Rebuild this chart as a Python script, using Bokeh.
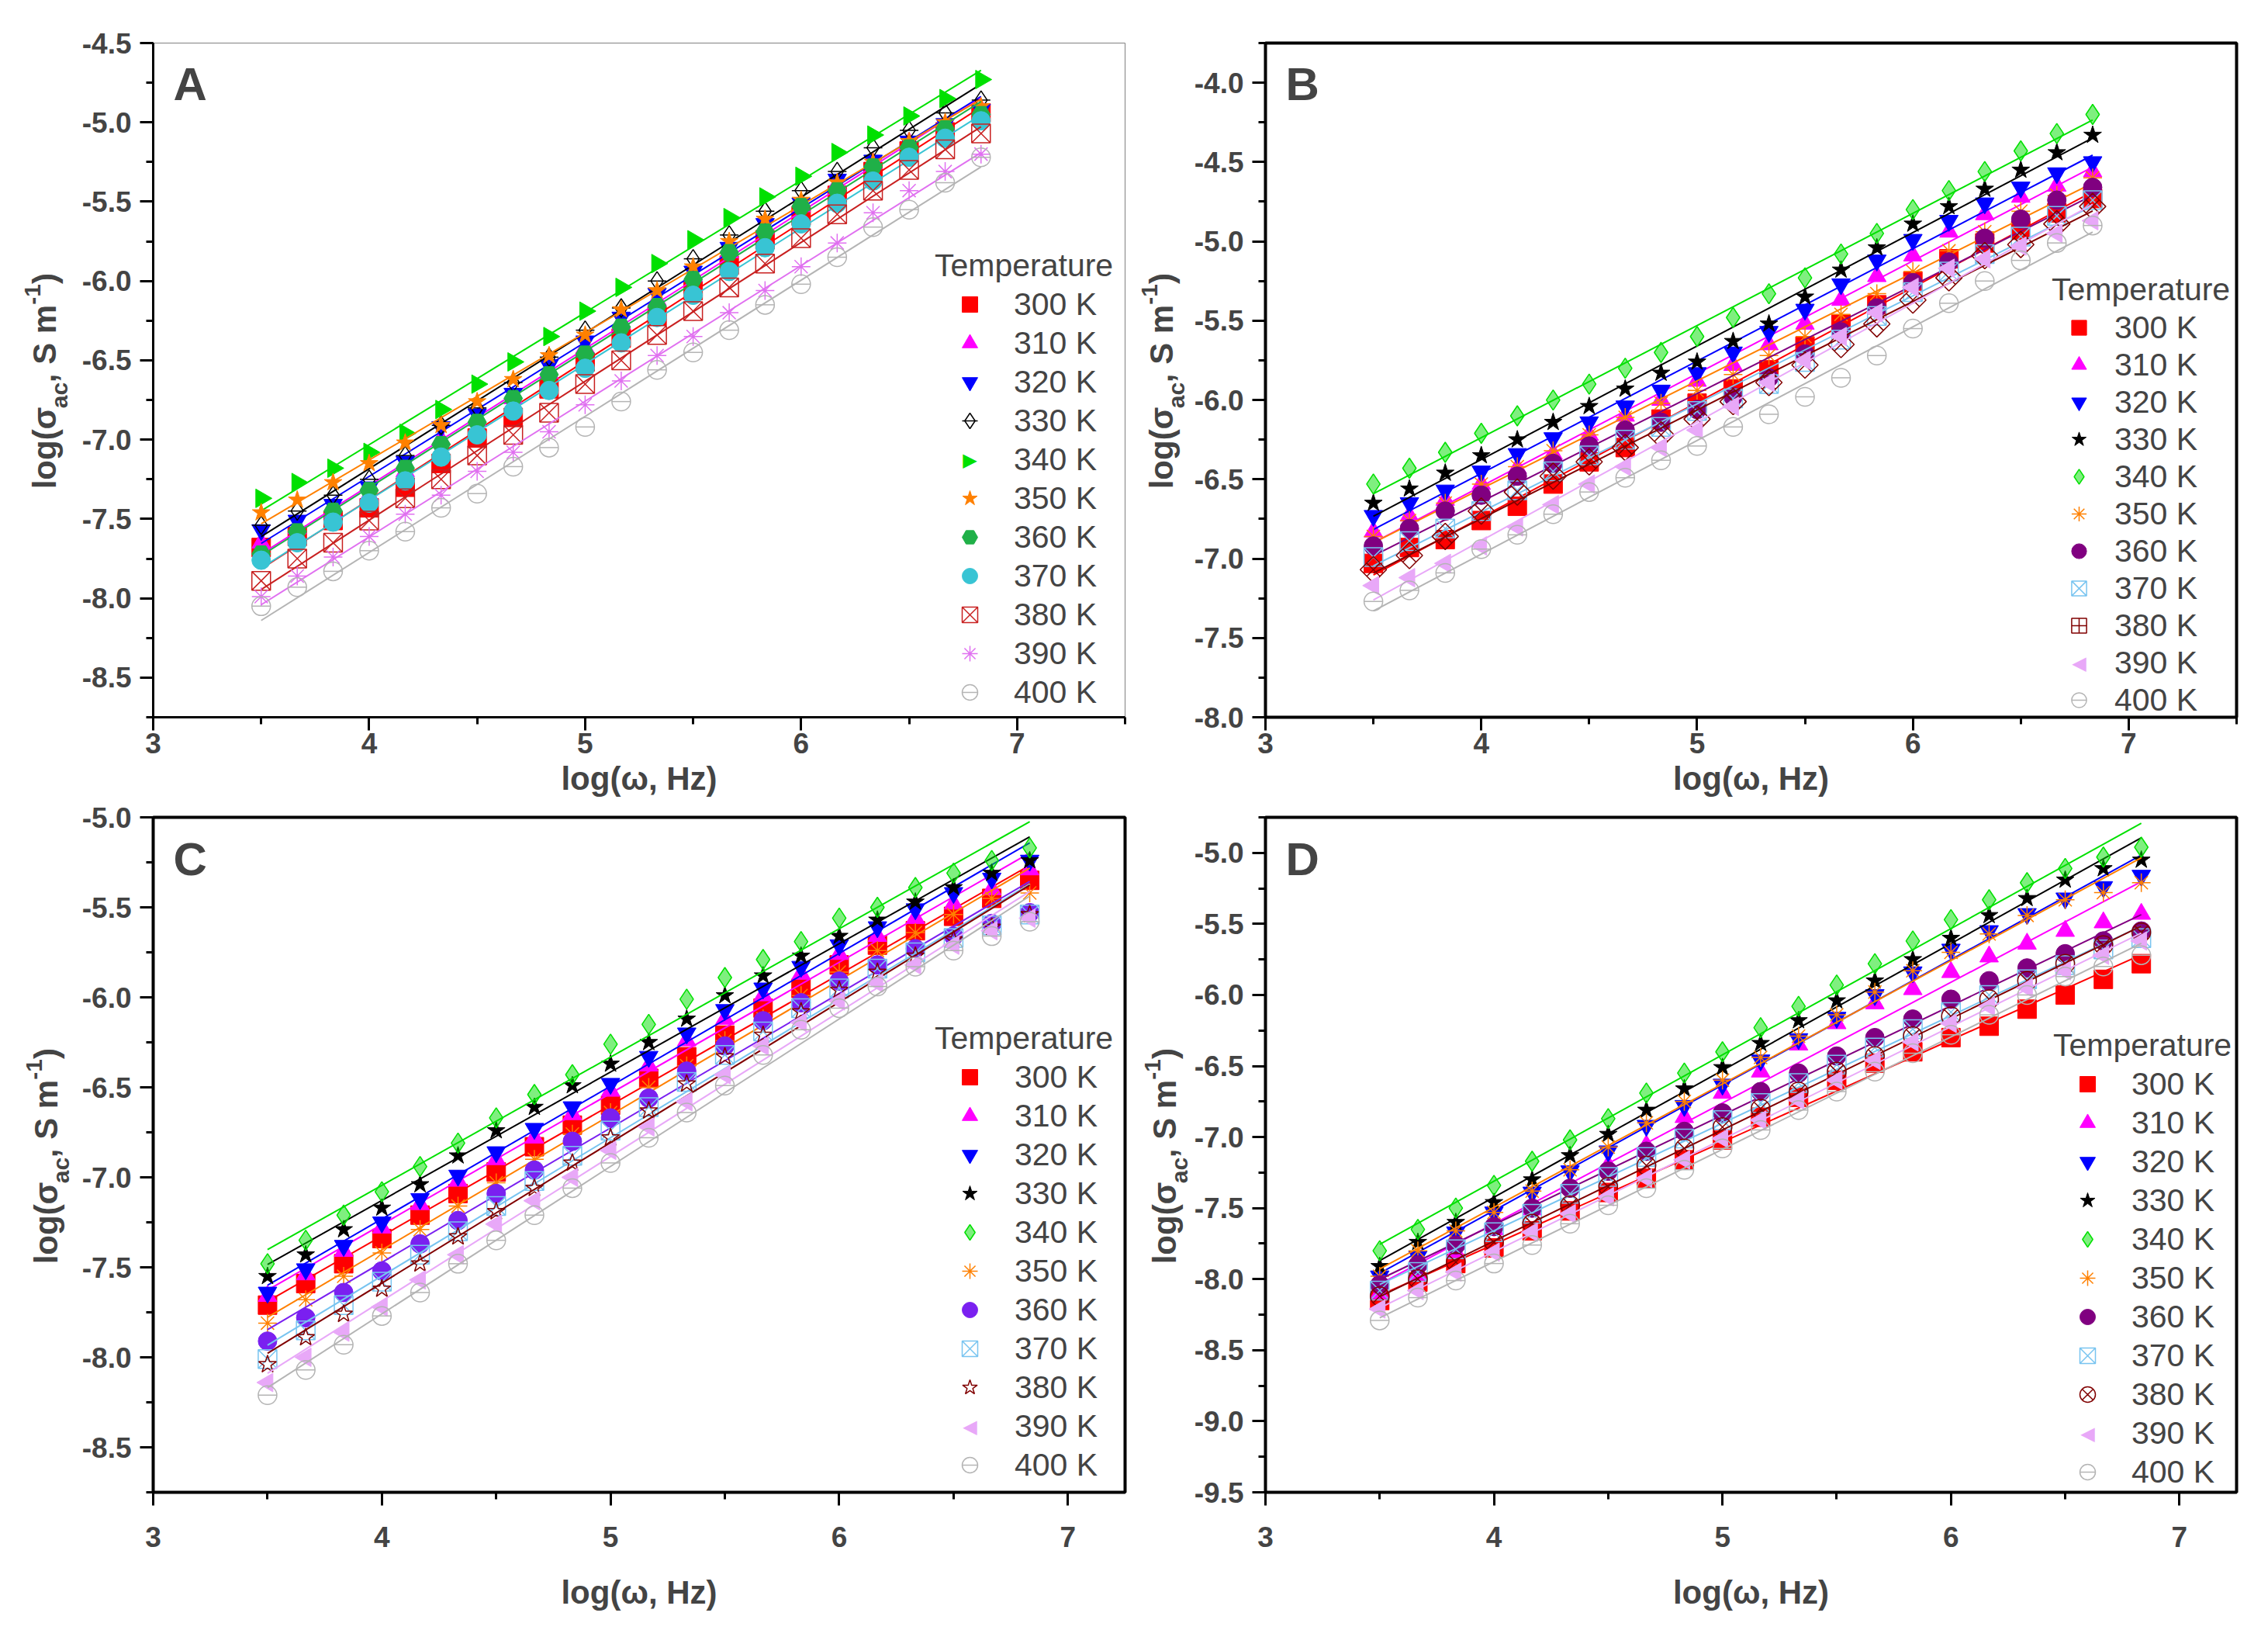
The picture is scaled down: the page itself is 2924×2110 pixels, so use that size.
import math
import numpy as np
from bokeh.plotting import figure
from bokeh.models import (Range1d, SingleIntervalTicker, NumeralTickFormatter,
                          Label, Legend, LegendItem)
from bokeh.layouts import gridplot
from bokeh.embed import file_html
from bokeh.resources import INLINE

# log(omega) positions of the measured points
log_w = [3.5, 3.667, 3.833, 4.0, 4.167, 4.333, 4.5, 4.667, 4.833, 5.0, 5.167,
         5.333, 5.5, 5.667, 5.833, 6.0, 6.167, 6.333, 6.5, 6.667, 6.833]

temps = ["300 K", "310 K", "320 K", "330 K", "340 K", "350 K",
         "360 K", "370 K", "380 K", "390 K", "400 K"]

# log(sigma_ac) per temperature, panel A
panel_a = [
    [-7.68, -7.61, -7.51, -7.43, -7.30, -7.15, -6.99, -6.86, -6.68, -6.51, -6.36, -6.22, -6.06, -5.90, -5.74, -5.59, -5.46, -5.31, -5.18, -5.06, -4.94],
    [-7.65, -7.56, -7.46, -7.35, -7.20, -7.00, -6.88, -6.74, -6.58, -6.42, -6.27, -6.12, -5.97, -5.82, -5.67, -5.53, -5.39, -5.26, -5.13, -5.02, -4.92],
    [-7.57, -7.51, -7.41, -7.30, -7.14, -6.92, -6.84, -6.71, -6.53, -6.38, -6.23, -6.08, -5.94, -5.79, -5.64, -5.51, -5.36, -5.24, -5.12, -5.01, -4.92],
    [-7.54, -7.45, -7.35, -7.25, -7.10, -6.91, -6.80, -6.64, -6.48, -6.31, -6.17, -6.00, -5.86, -5.71, -5.56, -5.43, -5.31, -5.16, -5.05, -4.94, -4.86],
    [-7.37, -7.27, -7.18, -7.08, -6.96, -6.81, -6.65, -6.51, -6.35, -6.19, -6.04, -5.89, -5.74, -5.60, -5.47, -5.34, -5.19, -5.08, -4.96, -4.85, -4.73],
    [-7.46, -7.38, -7.27, -7.15, -7.02, -6.91, -6.76, -6.62, -6.47, -6.34, -6.18, -6.06, -5.91, -5.75, -5.61, -5.49, -5.38, -5.25, -5.12, -5.00, -4.90],
    [-7.72, -7.58, -7.45, -7.32, -7.18, -7.03, -6.89, -6.74, -6.59, -6.46, -6.29, -6.16, -5.99, -5.82, -5.69, -5.53, -5.43, -5.28, -5.16, -5.04, -4.95],
    [-7.76, -7.65, -7.52, -7.40, -7.26, -7.11, -6.97, -6.82, -6.69, -6.55, -6.39, -6.23, -6.09, -5.94, -5.79, -5.64, -5.51, -5.37, -5.22, -5.10, -4.99],
    [-7.89, -7.75, -7.65, -7.51, -7.37, -7.25, -7.10, -6.97, -6.83, -6.65, -6.50, -6.34, -6.19, -6.04, -5.89, -5.73, -5.58, -5.43, -5.30, -5.17, -5.07],
    [-7.99, -7.86, -7.74, -7.61, -7.47, -7.35, -7.20, -7.08, -6.95, -6.78, -6.63, -6.47, -6.35, -6.20, -6.06, -5.91, -5.76, -5.57, -5.43, -5.31, -5.20],
    [-8.05, -7.93, -7.83, -7.70, -7.58, -7.43, -7.34, -7.17, -7.05, -6.92, -6.76, -6.56, -6.45, -6.31, -6.15, -6.02, -5.85, -5.66, -5.55, -5.38, -5.22],
]

# panel B
panel_b = [
    [-7.03, -6.93, -6.88, -6.76, -6.67, -6.53, -6.39, -6.30, -6.12, -6.02, -5.93, -5.81, -5.66, -5.52, -5.40, -5.25, -5.11, -5.01, -4.93, -4.82, -4.73],
    [-6.83, -6.73, -6.63, -6.53, -6.43, -6.34, -6.22, -6.10, -6.00, -5.88, -5.78, -5.65, -5.52, -5.37, -5.22, -5.09, -4.94, -4.83, -4.72, -4.65, -4.56],
    [-6.73, -6.65, -6.57, -6.45, -6.34, -6.24, -6.14, -6.04, -5.94, -5.83, -5.70, -5.57, -5.43, -5.27, -5.12, -4.99, -4.87, -4.76, -4.66, -4.57, -4.50],
    [-6.65, -6.56, -6.46, -6.35, -6.25, -6.14, -6.04, -5.93, -5.83, -5.76, -5.63, -5.52, -5.35, -5.18, -5.04, -4.89, -4.78, -4.67, -4.55, -4.44, -4.33],
    [-6.53, -6.43, -6.33, -6.21, -6.10, -6.00, -5.90, -5.80, -5.70, -5.60, -5.48, -5.33, -5.23, -5.08, -4.95, -4.80, -4.68, -4.56, -4.43, -4.32, -4.20],
    [-6.86, -6.76, -6.65, -6.53, -6.42, -6.32, -6.22, -6.11, -6.02, -5.94, -5.84, -5.72, -5.60, -5.46, -5.33, -5.19, -5.06, -4.94, -4.81, -4.71, -4.60],
    [-6.92, -6.81, -6.70, -6.60, -6.48, -6.40, -6.29, -6.19, -6.14, -6.06, -5.98, -5.86, -5.71, -5.57, -5.42, -5.26, -5.13, -4.98, -4.86, -4.74, -4.66],
    [-6.99, -6.89, -6.81, -6.70, -6.57, -6.45, -6.35, -6.25, -6.17, -6.07, -5.99, -5.90, -5.76, -5.62, -5.47, -5.32, -5.19, -5.08, -4.97, -4.84, -4.74],
    [-7.07, -6.98, -6.86, -6.70, -6.58, -6.48, -6.39, -6.30, -6.22, -6.12, -6.01, -5.89, -5.78, -5.65, -5.52, -5.37, -5.23, -5.09, -5.02, -4.89, -4.78],
    [-7.17, -7.12, -7.03, -6.92, -6.80, -6.66, -6.53, -6.42, -6.30, -6.19, -6.04, -5.89, -5.75, -5.60, -5.45, -5.29, -5.17, -5.11, -5.03, -4.95, -4.87],
    [-7.27, -7.20, -7.09, -6.94, -6.85, -6.72, -6.58, -6.49, -6.38, -6.29, -6.17, -6.09, -5.98, -5.86, -5.72, -5.55, -5.39, -5.25, -5.12, -5.01, -4.90],
]

# panel C
panel_c = [
    [-7.71, -7.59, -7.48, -7.34, -7.21, -7.09, -6.97, -6.83, -6.71, -6.60, -6.45, -6.33, -6.21, -6.06, -5.95, -5.82, -5.71, -5.63, -5.55, -5.45, -5.35],
    [-7.66, -7.54, -7.41, -7.28, -7.15, -7.02, -6.90, -6.78, -6.65, -6.52, -6.38, -6.24, -6.12, -5.99, -5.87, -5.76, -5.66, -5.56, -5.48, -5.40, -5.29],
    [-7.64, -7.51, -7.38, -7.25, -7.12, -6.99, -6.86, -6.73, -6.61, -6.48, -6.33, -6.20, -6.07, -5.95, -5.83, -5.71, -5.61, -5.51, -5.42, -5.34, -5.24],
    [-7.55, -7.43, -7.29, -7.17, -7.04, -6.88, -6.74, -6.61, -6.49, -6.37, -6.25, -6.12, -5.99, -5.88, -5.77, -5.66, -5.57, -5.47, -5.39, -5.31, -5.24],
    [-7.48, -7.35, -7.21, -7.08, -6.94, -6.81, -6.67, -6.54, -6.43, -6.26, -6.15, -6.01, -5.89, -5.79, -5.69, -5.56, -5.50, -5.39, -5.31, -5.24, -5.17],
    [-7.81, -7.68, -7.55, -7.42, -7.29, -7.16, -7.03, -6.90, -6.76, -6.64, -6.50, -6.38, -6.24, -6.12, -5.99, -5.86, -5.74, -5.64, -5.54, -5.45, -5.42],
    [-7.91, -7.78, -7.64, -7.52, -7.37, -7.24, -7.09, -6.96, -6.80, -6.67, -6.56, -6.41, -6.27, -6.13, -6.03, -5.91, -5.82, -5.73, -5.66, -5.59, -5.53],
    [-8.01, -7.85, -7.71, -7.58, -7.43, -7.30, -7.16, -7.02, -6.88, -6.74, -6.61, -6.47, -6.32, -6.19, -6.06, -5.95, -5.84, -5.75, -5.67, -5.60, -5.54],
    [-8.04, -7.89, -7.76, -7.62, -7.48, -7.33, -7.19, -7.06, -6.92, -6.78, -6.63, -6.48, -6.33, -6.21, -6.08, -5.96, -5.86, -5.77, -5.68, -5.61, -5.54],
    [-8.14, -8.00, -7.86, -7.72, -7.57, -7.43, -7.26, -7.13, -7.00, -6.85, -6.72, -6.58, -6.43, -6.27, -6.14, -6.02, -5.92, -5.82, -5.71, -5.63, -5.56],
    [-8.21, -8.07, -7.93, -7.77, -7.64, -7.48, -7.35, -7.21, -7.06, -6.92, -6.78, -6.64, -6.49, -6.32, -6.18, -6.06, -5.94, -5.83, -5.74, -5.66, -5.58],
]

# panel D
panel_d = [
    [-8.15, -8.02, -7.89, -7.78, -7.66, -7.52, -7.39, -7.29, -7.16, -7.02, -6.86, -6.72, -6.60, -6.48, -6.40, -6.30, -6.22, -6.10, -6.00, -5.89, -5.78],
    [-8.10, -7.97, -7.81, -7.65, -7.51, -7.35, -7.20, -7.06, -6.86, -6.69, -6.54, -6.35, -6.20, -6.06, -5.96, -5.84, -5.73, -5.64, -5.55, -5.49, -5.43],
    [-7.98, -7.84, -7.67, -7.53, -7.39, -7.24, -7.10, -6.92, -6.78, -6.63, -6.46, -6.31, -6.16, -6.00, -5.84, -5.68, -5.55, -5.43, -5.32, -5.24, -5.16],
    [-7.91, -7.74, -7.60, -7.46, -7.30, -7.13, -6.98, -6.81, -6.66, -6.51, -6.34, -6.18, -6.04, -5.90, -5.75, -5.60, -5.44, -5.32, -5.19, -5.11, -5.05],
    [-7.80, -7.65, -7.50, -7.34, -7.17, -7.02, -6.87, -6.69, -6.55, -6.40, -6.23, -6.08, -5.93, -5.78, -5.62, -5.47, -5.33, -5.21, -5.11, -5.03, -4.96],
    [-7.98, -7.80, -7.66, -7.53, -7.38, -7.23, -7.07, -6.90, -6.75, -6.60, -6.44, -6.29, -6.14, -5.98, -5.83, -5.70, -5.57, -5.44, -5.33, -5.28, -5.21],
    [-8.04, -7.90, -7.76, -7.63, -7.50, -7.36, -7.24, -7.10, -6.96, -6.83, -6.68, -6.55, -6.43, -6.30, -6.17, -6.03, -5.90, -5.81, -5.71, -5.62, -5.55],
    [-8.08, -7.95, -7.79, -7.67, -7.54, -7.40, -7.28, -7.14, -7.01, -6.88, -6.76, -6.62, -6.49, -6.37, -6.24, -6.12, -6.00, -5.89, -5.79, -5.68, -5.60],
    [-8.12, -8.00, -7.88, -7.74, -7.61, -7.48, -7.35, -7.20, -7.08, -6.93, -6.80, -6.68, -6.54, -6.43, -6.29, -6.15, -6.03, -5.90, -5.78, -5.65, -5.56],
    [-8.21, -8.08, -7.95, -7.81, -7.67, -7.54, -7.42, -7.29, -7.16, -7.01, -6.88, -6.74, -6.60, -6.46, -6.33, -6.20, -6.08, -5.95, -5.83, -5.72, -5.62],
    [-8.29, -8.13, -8.01, -7.89, -7.76, -7.61, -7.48, -7.36, -7.23, -7.08, -6.95, -6.81, -6.68, -6.54, -6.41, -6.28, -6.14, -6.00, -5.87, -5.80, -5.72],
]

FONT = "Liberation Sans"

# marker styles: (marker, colour, filled, angle, overlay dash, legend symbol)
GREEN = "#00e000"
style_a = [
    ("square", "#ff0000", True, 0, False, None),
    ("triangle", "#ff00ff", True, 0, False, None),
    ("inverted_triangle", "#0000ff", True, 0, False, None),
    ("diamond", "#000000", False, 0, True, None),
    ("triangle", GREEN, True, -math.pi / 2, False, "▶"),
    ("star", "#ff8000", True, 0, False, None),
    ("hex", "#20b048", True, 0, False, None),
    ("circle", "#38c4d4", True, 0, False, None),
    ("square_x", "#c82020", False, 0, False, None),
    ("asterisk", "#e070f0", False, 0, False, None),
    ("circle", "#b4b4b4", False, 0, True, None),
]


def style_bcd(c360, m380, a380):
    return [
        ("square", "#ff0000", True, 0, False, None),
        ("triangle", "#ff00ff", True, 0, False, None),
        ("inverted_triangle", "#0000ff", True, 0, False, None),
        ("star", "#000000", True, 0, False, None),
        ("diamond", GREEN, "half", 0, False, None),
        ("asterisk", "#ff8000", False, 0, False, None),
        ("circle", c360, True, 0, False, None),
        ("square_x", "#78c4f0", False, 0, False, None),
        (m380, "#800000", False, a380, False, None),
        ("triangle", "#e8a8f8", True, math.pi / 2, False, "◀"),
        ("circle", "#b4b4b4", False, 0, True, None),
    ]


style_b = style_bcd("#800080", "square_cross", math.pi / 4)
style_c = style_bcd("#7a20f0", "star", 0)
style_d = style_bcd("#800080", "circle_x", 0)


def ylabel_panel(w, h, base_x, center_from_bottom):
    # narrow blank figure that carries the rotated y axis title
    # (gridplot aligns its frame with the neighbouring panel's frame)
    p = figure(width=w, height=h, x_range=(0, 1), y_range=(0, 1),
               output_backend="svg", toolbar_location=None, tools="",
               x_axis_location=None, y_axis_location=None, min_border=0)
    p.outline_line_color = None
    p.grid.visible = False
    # text, font size, baseline shift (+ is below the baseline), advance
    pieces = [("log(σ", 42, 0, 103), ("ac", 30, 14, 33), (", S m", 42, 0, 100),
              ("-1", 30, -20, 27), (")", 42, 0, 14)]
    ypos = center_from_bottom - sum(pc[3] for pc in pieces) / 2
    for txt, fs, dx, wd in pieces:
        cx = base_x + dx - 0.3465 * fs
        p.add_layout(Label(x=cx, y=ypos + wd / 2, x_units="screen", y_units="screen",
                           text=txt, angle=math.pi / 2, text_font=FONT,
                           text_font_style="bold", text_font_size=f"{fs}px",
                           text_align="center", text_baseline="middle"))
        ypos += wd
    return p


def make_panel(letter, series, styles, yr, xr, w, h, borders, thick_frame,
               x_std, label_std, legend_loc, glyph_w, label_off, pitch):
    bl, br, bt, bb = borders
    p = figure(width=w, height=h, x_range=Range1d(*xr), y_range=Range1d(*yr),
               output_backend="svg", toolbar_location=None, tools="",
               min_border_left=bl, min_border_right=br, min_border_top=bt,
               min_border_bottom=bb)
    p.xgrid.visible = False
    p.ygrid.visible = False
    if thick_frame:
        p.outline_line_color = "black"
        p.outline_line_width = 4
    else:
        p.outline_line_color = "#808080"
        p.outline_line_width = 1

    p.xaxis.ticker = SingleIntervalTicker(interval=1, num_minor_ticks=2)
    p.yaxis.ticker = SingleIntervalTicker(interval=0.5, num_minor_ticks=2)
    p.yaxis.formatter = NumeralTickFormatter(format="0.0")
    for ax in (p.xaxis[0], p.yaxis[0]):
        ax.axis_line_width = 3
        ax.major_tick_line_width = 3
        ax.minor_tick_line_width = 3
        ax.major_tick_out = 17
        ax.major_tick_in = 0
        ax.minor_tick_out = 9
        ax.minor_tick_in = 0
        ax.major_label_text_font = FONT
        ax.major_label_text_font_style = "bold"
        ax.major_label_text_font_size = "37px"
    p.yaxis.major_label_standoff = 11
    p.xaxis.major_label_standoff = x_std
    p.xaxis.axis_label = "log(ω, Hz)"
    p.xaxis.axis_label_text_font = FONT
    p.xaxis.axis_label_text_font_style = "bold"
    p.xaxis.axis_label_text_font_size = "42px"
    p.xaxis.axis_label_standoff = label_std

    lx, ly = legend_loc
    items = []
    for i, (temp, yv, st) in enumerate(zip(temps, series, styles)):
        mk, col, filled, ang, dash, symbol = st
        slope, icpt = np.polyfit(log_w, yv, 1)
        xs = [log_w[0], log_w[-1]]
        p.line(xs, [icpt + slope * v for v in xs], line_color=col, line_width=2)
        if filled == "half":
            r = p.scatter(log_w, yv, marker=mk, size=26, fill_color=col,
                          fill_alpha=0.5, line_color=col, line_width=1.5)
        elif filled:
            r = p.scatter(log_w, yv, marker=mk, size=24, fill_color=col,
                          line_color=col, line_width=1, angle=ang)
        else:
            r = p.scatter(log_w, yv, marker=mk, size=24, fill_color=None,
                          line_color=col, line_width=1.5, angle=ang)
        rs = [r]
        if dash:
            rs.append(p.scatter(log_w, yv, marker="dash", size=24,
                                line_color=col, line_width=1.5))
        if symbol:
            # legend cannot rotate markers: blank legend glyph + text symbol
            rs = [p.scatter(log_w, yv, marker=mk, size=24, fill_alpha=0,
                            line_alpha=0)]
            p.add_layout(Label(x=lx + glyph_w / 2, y=ly + (10.5 - i) * pitch,
                               x_units="screen", y_units="screen", text=symbol,
                               text_color=col, text_font="DejaVu Sans",
                               text_font_size="24px", text_align="center",
                               text_baseline="middle"))
        items.append(LegendItem(label=temp, renderers=rs))

    legend = Legend(items=items, location=legend_loc, title="Temperature",
                    title_text_font=FONT, title_text_font_size="41px",
                    title_text_font_style="normal", title_standoff=1,
                    label_text_font=FONT, label_text_font_size="41px",
                    glyph_width=glyph_w, glyph_height=pitch, label_height=pitch,
                    label_standoff=label_off, spacing=0, padding=0, margin=0,
                    border_line_color=None, background_fill_alpha=0)
    p.add_layout(legend)

    frame_h = h - bt - bb
    p.add_layout(Label(x=26, y=frame_h - 76 + 0.3465 * 60, x_units="screen",
                       y_units="screen", text=letter, text_font=FONT,
                       text_font_style="bold", text_font_size="60px",
                       text_align="left", text_baseline="middle"))
    return p


H1 = 1029
H2 = 1065
la = ylabel_panel(96, H1, 72, 434)
lb = ylabel_panel(82, H1, 58, 434)
lc = ylabel_panel(96, H2, 74, 434)
ld = ylabel_panel(82, H2, 62, 434)

pa = make_panel("A", panel_a, style_a, (-8.75, -4.5), (3, 7.5), 1358, H1,
                (101, 3, 54, 104), False, 3, 6, (1008, 7), 90, 12, 50)
pb = make_panel("B", panel_b, style_b, (-8.0, -3.75), (3, 7.5), 1372, H1,
                (92, 25, 55, 103), True, 3, 6, (1014, -2), 70, 11, 48)
pc = make_panel("C", panel_c, style_c, (-8.75, -5.0), (3, 7.25), 1358, H2,
                (100, 4, 23, 171), True, 27, 32, (1008, 10), 90, 13, 50)
pd = make_panel("D", panel_d, style_d, (-9.5, -4.75), (3, 7.25), 1372, H2,
                (92, 25, 24, 170), True, 27, 32, (1016, 1), 88, 13, 50)

grid = gridplot([[la, pa, lb, pb], [lc, pc, ld, pd]], toolbar_location=None)
open("out.html", "w").write(file_html(grid, INLINE))
